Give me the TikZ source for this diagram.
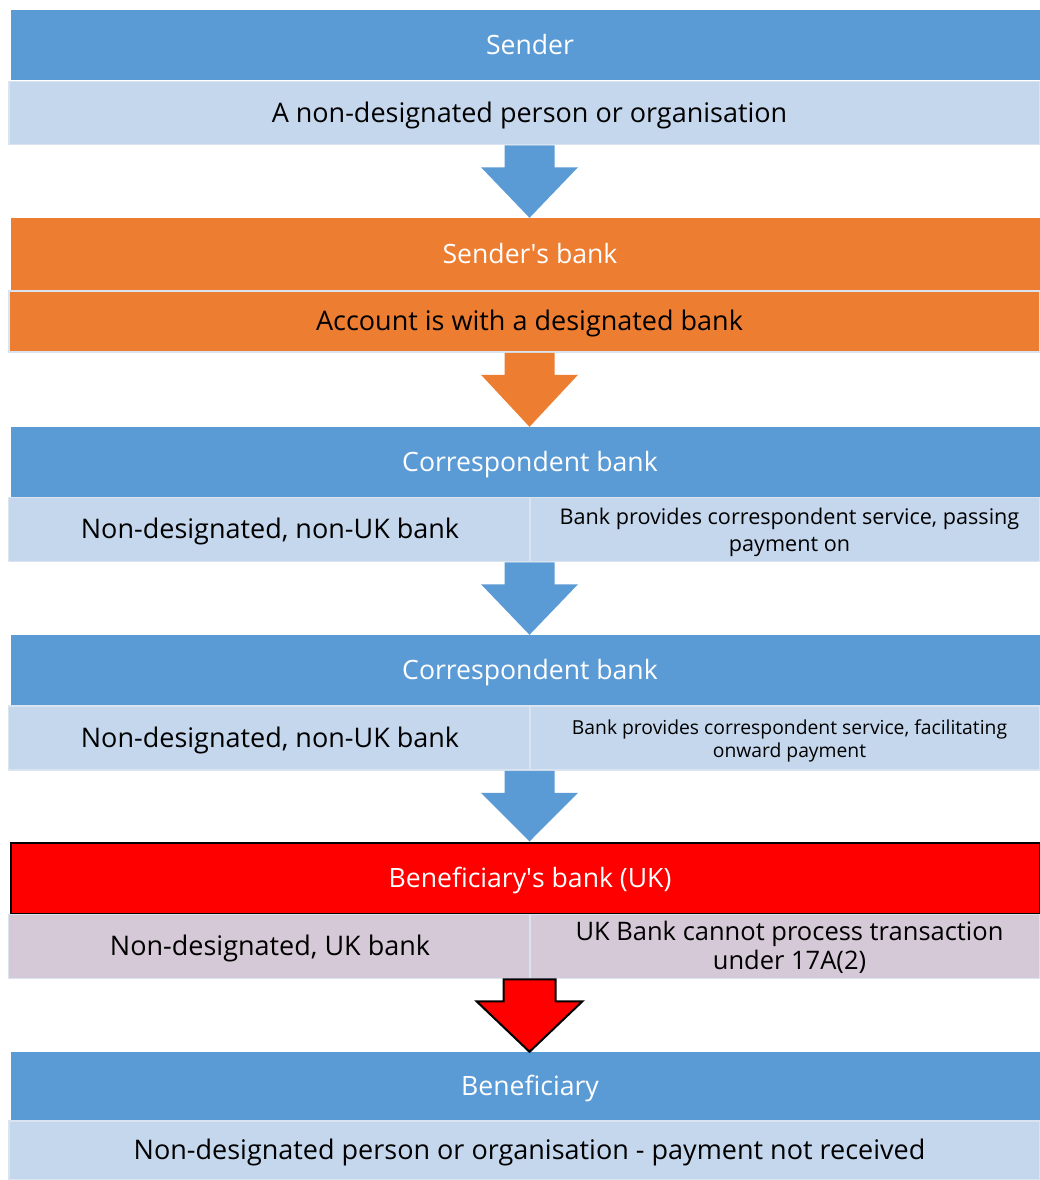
\documentclass[tikz,border=0pt]{standalone}
\usepackage{fontspec}
\setmainfont{Open Sans}
\usetikzlibrary{calc}
\definecolor{hblue}{HTML}{5B9BD5}
\definecolor{lblue}{HTML}{C5D7ED}
\definecolor{orng}{HTML}{ED7D31}
\definecolor{lav}{HTML}{D5C8D7}
\definecolor{edgec}{HTML}{DAE3F0}
\tikzset{
  x=1pt,y=-1pt,
  hdr/.style={rectangle, draw=none, fill=hblue, text=white, inner sep=0pt, font=\fontsize{26.6}{32}\selectfont, minimum height=70pt},
  sub/.style={rectangle, draw=edgec, line width=1.5pt, fill=lblue, text=black, inner sep=0pt, font=\fontsize{27}{32}\selectfont, minimum height=63pt},
  blk/.style={draw=none, fill=hblue},
}
\newcommand{\sh}[2]{\hspace*{#1}\raisebox{-3pt}[\height][\depth]{\begin{tabular}{@{}c@{}}#2\end{tabular}}}
\newcommand{\blockarrow}[5]{% from, to, style, half shaft, half head
  \draw[#3] ([xshift=-#4pt]ax |- #1.south) -- ([xshift=#4pt]ax |- #1.south)
    -- ([xshift=#4pt,yshift=-22pt]ax |- #1.south) -- ([xshift=#5pt,yshift=-22pt]ax |- #1.south)
    -- (ax |- #2.north) -- ([xshift=-#5pt,yshift=-22pt]ax |- #1.south)
    -- ([xshift=-#4pt,yshift=-22pt]ax |- #1.south) -- cycle;}
\begin{document}
\begin{tikzpicture}
\useasboundingbox[fill=white] (0,0) rectangle (1040,1180);
\coordinate (ax) at (529.5,0);
% Sender
\node[hdr, minimum width=1029pt] (h1) at (525.5,45) {\sh{9pt}{Sender}};
\node[sub, minimum width=1031pt, minimum height=63pt] (s1) at (524.5,113) {\sh{10pt}{A non-designated person or organisation}};
% Sender's bank
\node[hdr, fill=orng, minimum width=1029pt, minimum height=72pt] (h2) at (525.5,254) {\sh{9pt}{Sender\textquotesingle s bank}};
\node[sub, fill=orng, minimum width=1031pt, minimum height=61pt] (s2) at (524.5,321.5) {\sh{10pt}{Account is with a designated bank}};
% Correspondent 1
\node[hdr, minimum width=1029pt] (h3) at (525.5,462) {\sh{9pt}{Correspondent bank}};
\node[sub, minimum width=521pt, minimum height=64pt] (s3a) at (269,529.5) {\sh{2pt}{Non-designated, non-UK bank}};
\node[sub, minimum width=510pt, minimum height=64pt, font=\fontsize{21.6}{27}\selectfont] (s3b) at (785,529.5) {\sh{9pt}{Bank provides correspondent service, passing\\payment on}};
% Correspondent 2
\node[hdr, minimum width=1029pt] (h4) at (525.5,670) {\sh{9pt}{Correspondent bank}};
\node[sub, minimum width=521pt, minimum height=64pt] (s4a) at (269,738) {\sh{2pt}{Non-designated, non-UK bank}};
\node[sub, minimum width=510pt, minimum height=64pt, font=\fontsize{19.3}{23}\selectfont] (s4b) at (785,738) {\sh{9pt}{Bank provides correspondent service, facilitating\\onward payment}};
% Beneficiary's bank
\node[hdr, fill=red, draw=black, line width=2pt, minimum width=1029pt, minimum height=71pt] (h5) at (525.5,878) {\sh{9pt}{Beneficiary\textquotesingle s bank (UK)}};
\node[sub, fill=lav, minimum width=521pt, minimum height=64pt] (s5a) at (269,946.5) {\sh{2pt}{Non-designated, UK bank}};
\node[sub, fill=lav, minimum width=510pt, minimum height=64pt, font=\fontsize{25.5}{29}\selectfont] (s5b) at (785,946.5) {\sh{9pt}{UK Bank cannot process transaction\\under 17A(2)}};
% Beneficiary
\node[hdr, minimum width=1029pt, minimum height=68pt] (h6) at (525.5,1086) {\sh{9pt}{Beneficiary}};
\node[sub, minimum width=1031pt, minimum height=59pt] (s6) at (524.5,1150.5) {\sh{10pt}{Non-designated person or organisation - payment not received}};
% arrows
\blockarrow{s1}{h2}{blk}{25}{48.5}
\blockarrow{s2}{h3}{blk, fill=orng}{25}{48.5}
\blockarrow{s3a}{h4}{blk}{25}{48.5}
\blockarrow{s4a}{h5}{blk}{25}{48.5}
\blockarrow{s5a}{h6}{fill=red, draw=black, line width=2pt, line join=miter}{26}{53}
\end{tikzpicture}
\end{document}
